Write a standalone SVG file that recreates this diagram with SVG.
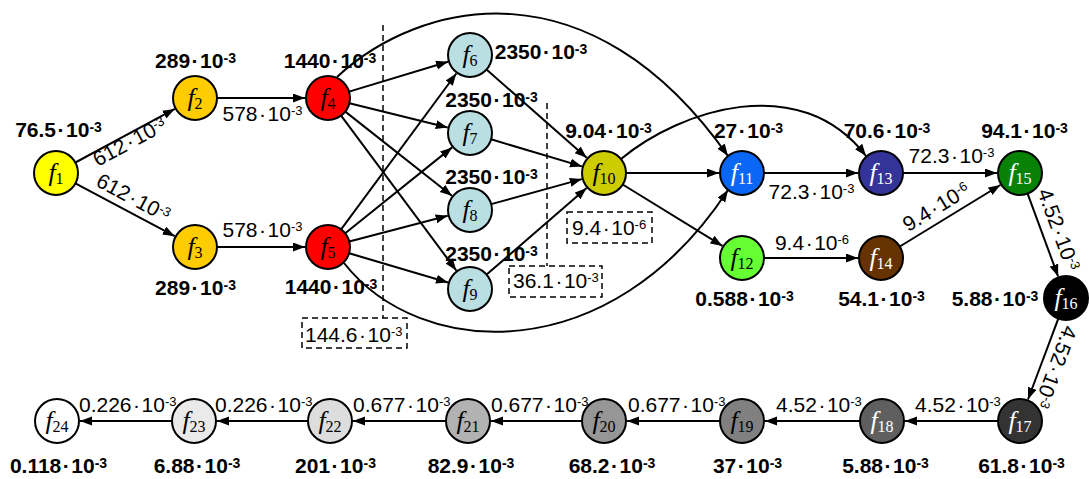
<svg xmlns="http://www.w3.org/2000/svg" width="1089" height="479" viewBox="0 0 1089 479">
<defs>
<marker id="ah" markerWidth="13" markerHeight="10" refX="12" refY="4.5" orient="auto" markerUnits="userSpaceOnUse">
<path d="M0,0 L12,4.5 L0,9 z" fill="#000"/>
</marker>
<style>
.n circle{stroke:#000;stroke-width:2}
.nl{font-family:"Liberation Serif","Times New Roman",serif;font-size:26px;text-anchor:middle;fill:#000}
.nl .s{font-style:normal;font-size:16px}
.w{fill:#fff}
.b{font-family:"Liberation Sans",Arial,sans-serif;font-weight:bold;font-size:21px;text-anchor:middle;fill:#000}
.bs{font-size:14px}
.l{font-family:"Liberation Sans",Arial,sans-serif;font-size:21px;fill:#000}
.ls{font-size:13px}
.m{text-anchor:middle}
.e{stroke:#000;stroke-width:2;fill:none;marker-end:url(#ah)}
.d{stroke:#000;stroke-width:1.5;fill:none;stroke-dasharray:6 4}
</style>
</defs>
<rect width="1089" height="479" fill="#fff"/>

<g id="connectors">
<line class="e" x1="75.4" y1="162.5" x2="174.8" y2="108.9"/>
<line class="e" x1="75.4" y1="183.3" x2="174.7" y2="236.2"/>
<line class="e" x1="217" y1="98" x2="305" y2="98"/>
<line class="e" x1="217" y1="247" x2="305" y2="247"/>
<line class="e" x1="349.1" y1="91.6" x2="448" y2="61.7"/>
<line class="e" x1="349.4" y1="103.3" x2="447.7" y2="127.5"/>
<line class="e" x1="345.3" y1="111.6" x2="451.9" y2="195.8"/>
<line class="e" x1="341.1" y1="115.7" x2="456.3" y2="270.5"/>
<line class="e" x1="341.1" y1="229.3" x2="456.3" y2="73.5"/>
<line class="e" x1="345.2" y1="233.2" x2="452.1" y2="147.4"/>
<line class="e" x1="349.3" y1="241.5" x2="447.7" y2="215.8"/>
<line class="e" x1="349.1" y1="253.2" x2="448" y2="282.5"/>
<line class="e" x1="486.5" y1="69.5" x2="586.7" y2="157.8"/>
<line class="e" x1="491.1" y1="139.3" x2="582" y2="166.4"/>
<line class="e" x1="491.2" y1="204.1" x2="581.8" y2="179.1"/>
<line class="e" x1="486.6" y1="274.6" x2="586.6" y2="188.1"/>
<line class="e" x1="626" y1="173" x2="719" y2="173"/>
<line class="e" x1="622.7" y1="184.5" x2="722.4" y2="245.9"/>
<line class="e" x1="764" y1="173" x2="858" y2="173"/>
<line class="e" x1="764" y1="258" x2="858" y2="258"/>
<line class="e" x1="903" y1="173" x2="997" y2="173"/>
<line class="e" x1="899.8" y1="246.5" x2="1000.4" y2="185"/>
<line class="e" x1="1027.6" y1="193.6" x2="1058.1" y2="276.4"/>
<line class="e" x1="1058.3" y1="318.6" x2="1028" y2="399.5"/>
<line class="e" x1="998" y1="421" x2="905" y2="421"/>
<line class="e" x1="860" y1="421" x2="765" y2="421"/>
<line class="e" x1="720" y1="421" x2="627" y2="421"/>
<line class="e" x1="582" y1="421" x2="491" y2="421"/>
<line class="e" x1="446" y1="421" x2="353" y2="421"/>
<line class="e" x1="308" y1="421" x2="217" y2="421"/>
<line class="e" x1="172" y1="421" x2="80" y2="421"/>
<path class="e" d="M337,77 C420,0 590,-40 728,156"/>
<path class="e" d="M621,159 C680,110 800,70 866,156"/>
<path class="e" d="M344,263 C420,360 610,370 728,190"/>
</g>

<g id="dashed">
<line class="d" x1="383" y1="25" x2="383" y2="318"/>
<rect class="d" x="302" y="318" width="105" height="30"/>
<line class="d" x1="547" y1="103" x2="547" y2="266"/>
<rect class="d" x="509" y="266" width="93" height="31"/>
<rect class="d" x="567" y="212" width="85" height="31"/>
<text class="l" x="305" y="342">144.6<tspan dx="1.5">·</tspan><tspan dx="1.5">10</tspan><tspan class="ls" dy="-6">-3</tspan></text>
<text class="l" x="513" y="288">36.1<tspan dx="1.5">·</tspan><tspan dx="1.5">10</tspan><tspan class="ls" dy="-6">-3</tspan></text>
<text class="l" x="572" y="235">9.4<tspan dx="1.5">·</tspan><tspan dx="1.5">10</tspan><tspan class="ls" dy="-6">-6</tspan></text>
</g>

<g id="edge-labels">
<text class="l m" x="133" y="148" transform="rotate(-28.4 133 148)">612<tspan dx="1.5">·</tspan><tspan dx="1.5">10</tspan><tspan class="ls" dy="-6">-3</tspan></text>
<text class="l m" x="130" y="204" transform="rotate(28 130 204)">612<tspan dx="1.5">·</tspan><tspan dx="1.5">10</tspan><tspan class="ls" dy="-6">-3</tspan></text>
<text class="l m" x="262.5" y="121">578<tspan dx="1.5">·</tspan><tspan dx="1.5">10</tspan><tspan class="ls" dy="-6">-3</tspan></text>
<text class="l m" x="262.5" y="237">578<tspan dx="1.5">·</tspan><tspan dx="1.5">10</tspan><tspan class="ls" dy="-6">-3</tspan></text>
<text class="l m" x="811.5" y="199">72.3<tspan dx="1.5">·</tspan><tspan dx="1.5">10</tspan><tspan class="ls" dy="-6">-3</tspan></text>
<text class="l m" x="951.5" y="163">72.3<tspan dx="1.5">·</tspan><tspan dx="1.5">10</tspan><tspan class="ls" dy="-6">-3</tspan></text>
<text class="l m" x="812" y="250">9.4<tspan dx="1.5">·</tspan><tspan dx="1.5">10</tspan><tspan class="ls" dy="-6">-6</tspan></text>
<text class="l m" x="940" y="213" transform="rotate(-31.4 940 213)">9.4<tspan dx="1.5">·</tspan><tspan dx="1.5">10</tspan><tspan class="ls" dy="-6">-6</tspan></text>
<text class="l m" x="1052" y="232" transform="rotate(70 1052 232)">4.52<tspan dx="1.5">·</tspan><tspan dx="1.5">10</tspan><tspan class="ls" dy="-6">-3</tspan></text>
<text class="l m" x="1049" y="364.5" transform="rotate(110.5 1049 364.5)">4.52<tspan dx="1.5">·</tspan><tspan dx="1.5">10</tspan><tspan class="ls" dy="-6">-3</tspan></text>
<text class="l" x="915" y="412">4.52<tspan dx="1.5">·</tspan><tspan dx="1.5">10</tspan><tspan class="ls" dy="-6">-3</tspan></text>
<text class="l" x="776" y="412">4.52<tspan dx="1.5">·</tspan><tspan dx="1.5">10</tspan><tspan class="ls" dy="-6">-3</tspan></text>
<text class="l" x="628" y="412">0.677<tspan dx="1.5">·</tspan><tspan dx="1.5">10</tspan><tspan class="ls" dy="-6">-3</tspan></text>
<text class="l" x="491" y="412">0.677<tspan dx="1.5">·</tspan><tspan dx="1.5">10</tspan><tspan class="ls" dy="-6">-3</tspan></text>
<text class="l" x="353" y="412">0.677<tspan dx="1.5">·</tspan><tspan dx="1.5">10</tspan><tspan class="ls" dy="-6">-3</tspan></text>
<text class="l" x="215" y="412">0.226<tspan dx="1.5">·</tspan><tspan dx="1.5">10</tspan><tspan class="ls" dy="-6">-3</tspan></text>
<text class="l" x="79" y="412">0.226<tspan dx="1.5">·</tspan><tspan dx="1.5">10</tspan><tspan class="ls" dy="-6">-3</tspan></text>
</g>

<g id="f1" class="n"><circle cx="56" cy="173" r="22" fill="#FFFF00"/><text class="nl" x="56" y="181"><tspan font-style="italic">f</tspan><tspan class="s" dy="3">1</tspan></text><text class="b" x="58.5" y="137">76.5<tspan dx="1.5">·</tspan><tspan dx="1.5">10</tspan><tspan class="bs" dy="-5">-3</tspan></text></g>
<g id="f2" class="n"><circle cx="195" cy="98" r="22" fill="#FFCC00"/><text class="nl" x="195" y="106"><tspan font-style="italic">f</tspan><tspan class="s" dy="3">2</tspan></text><text class="b" x="195.5" y="68">289<tspan dx="1.5">·</tspan><tspan dx="1.5">10</tspan><tspan class="bs" dy="-5">-3</tspan></text></g>
<g id="f3" class="n"><circle cx="195" cy="247" r="22" fill="#FFCC00"/><text class="nl" x="195" y="255"><tspan font-style="italic">f</tspan><tspan class="s" dy="3">3</tspan></text><text class="b" x="195.5" y="295">289<tspan dx="1.5">·</tspan><tspan dx="1.5">10</tspan><tspan class="bs" dy="-5">-3</tspan></text></g>
<g id="f4" class="n"><circle cx="328" cy="98" r="22" fill="#FF0000"/><text class="nl" x="328" y="106"><tspan font-style="italic">f</tspan><tspan class="s" dy="3">4</tspan></text><text class="b" x="330" y="68">1440<tspan dx="1.5">·</tspan><tspan dx="1.5">10</tspan><tspan class="bs" dy="-5">-3</tspan></text></g>
<g id="f5" class="n"><circle cx="328" cy="247" r="22" fill="#FF0000"/><text class="nl" x="328" y="255"><tspan font-style="italic">f</tspan><tspan class="s" dy="3">5</tspan></text><text class="b" x="331" y="294">1440<tspan dx="1.5">·</tspan><tspan dx="1.5">10</tspan><tspan class="bs" dy="-5">-3</tspan></text></g>
<g id="f6" class="n"><circle cx="470" cy="55" r="22" fill="#B9DFE2"/><text class="nl" x="470" y="63"><tspan font-style="italic">f</tspan><tspan class="s" dy="3">6</tspan></text><text class="b" x="541" y="59">2350<tspan dx="1.5">·</tspan><tspan dx="1.5">10</tspan><tspan class="bs" dy="-5">-3</tspan></text></g>
<g id="f7" class="n"><circle cx="470" cy="133" r="22" fill="#B9DFE2"/><text class="nl" x="470" y="141"><tspan font-style="italic">f</tspan><tspan class="s" dy="3">7</tspan></text><text class="b" x="491.5" y="107">2350<tspan dx="1.5">·</tspan><tspan dx="1.5">10</tspan><tspan class="bs" dy="-5">-3</tspan></text></g>
<g id="f8" class="n"><circle cx="470" cy="210" r="22" fill="#B9DFE2"/><text class="nl" x="470" y="218"><tspan font-style="italic">f</tspan><tspan class="s" dy="3">8</tspan></text><text class="b" x="491.5" y="184">2350<tspan dx="1.5">·</tspan><tspan dx="1.5">10</tspan><tspan class="bs" dy="-5">-3</tspan></text></g>
<g id="f9" class="n"><circle cx="470" cy="289" r="22" fill="#B9DFE2"/><text class="nl" x="470" y="297"><tspan font-style="italic">f</tspan><tspan class="s" dy="3">9</tspan></text><text class="b" x="491.5" y="261">2350<tspan dx="1.5">·</tspan><tspan dx="1.5">10</tspan><tspan class="bs" dy="-5">-3</tspan></text></g>
<g id="f10" class="n"><circle cx="604" cy="173" r="22" fill="#CCCC00"/><text class="nl" x="604" y="181"><tspan font-style="italic">f</tspan><tspan class="s" dy="3">10</tspan></text><text class="b" x="608.5" y="138">9.04<tspan dx="1.5">·</tspan><tspan dx="1.5">10</tspan><tspan class="bs" dy="-5">-3</tspan></text></g>
<g id="f11" class="n"><circle cx="742" cy="173" r="22" fill="#0A66F5"/><text class="nl w" x="742" y="181"><tspan font-style="italic">f</tspan><tspan class="s" dy="3">11</tspan></text><text class="b" x="748.5" y="138">27<tspan dx="1.5">·</tspan><tspan dx="1.5">10</tspan><tspan class="bs" dy="-5">-3</tspan></text></g>
<g id="f12" class="n"><circle cx="742" cy="258" r="22" fill="#66FF33"/><text class="nl" x="742" y="266"><tspan font-style="italic">f</tspan><tspan class="s" dy="3">12</tspan></text><text class="b" x="744.5" y="306">0.588<tspan dx="1.5">·</tspan><tspan dx="1.5">10</tspan><tspan class="bs" dy="-5">-3</tspan></text></g>
<g id="f13" class="n"><circle cx="881" cy="173" r="22" fill="#333399"/><text class="nl w" x="881" y="181"><tspan font-style="italic">f</tspan><tspan class="s" dy="3">13</tspan></text><text class="b" x="887" y="138">70.6<tspan dx="1.5">·</tspan><tspan dx="1.5">10</tspan><tspan class="bs" dy="-5">-3</tspan></text></g>
<g id="f14" class="n"><circle cx="881" cy="258" r="22" fill="#663300"/><text class="nl w" x="881" y="266"><tspan font-style="italic">f</tspan><tspan class="s" dy="3">14</tspan></text><text class="b" x="881.5" y="306">54.1<tspan dx="1.5">·</tspan><tspan dx="1.5">10</tspan><tspan class="bs" dy="-5">-3</tspan></text></g>
<g id="f15" class="n"><circle cx="1020" cy="173" r="22" fill="#078207"/><text class="nl w" x="1020" y="181"><tspan font-style="italic">f</tspan><tspan class="s" dy="3">15</tspan></text><text class="b" x="1024.5" y="138">94.1<tspan dx="1.5">·</tspan><tspan dx="1.5">10</tspan><tspan class="bs" dy="-5">-3</tspan></text></g>
<g id="f16" class="n"><circle cx="1066" cy="298" r="22" fill="#000000"/><text class="nl w" x="1066" y="306"><tspan font-style="italic">f</tspan><tspan class="s" dy="3">16</tspan></text><text class="b" x="995" y="306">5.88<tspan dx="1.5">·</tspan><tspan dx="1.5">10</tspan><tspan class="bs" dy="-5">-3</tspan></text></g>
<g id="f17" class="n"><circle cx="1020" cy="421" r="22" fill="#333333"/><text class="nl w" x="1020" y="429"><tspan font-style="italic">f</tspan><tspan class="s" dy="3">17</tspan></text><text class="b" x="1021.5" y="473">61.8<tspan dx="1.5">·</tspan><tspan dx="1.5">10</tspan><tspan class="bs" dy="-5">-3</tspan></text></g>
<g id="f18" class="n"><circle cx="882" cy="421" r="22" fill="#5F5F5F"/><text class="nl w" x="882" y="429"><tspan font-style="italic">f</tspan><tspan class="s" dy="3">18</tspan></text><text class="b" x="885.5" y="473">5.88<tspan dx="1.5">·</tspan><tspan dx="1.5">10</tspan><tspan class="bs" dy="-5">-3</tspan></text></g>
<g id="f19" class="n"><circle cx="742" cy="421" r="22" fill="#808080"/><text class="nl" x="742" y="429" fill="#eeeeee"><tspan font-style="italic">f</tspan><tspan class="s" dy="3">19</tspan></text><text class="b" x="747.5" y="473">37<tspan dx="1.5">·</tspan><tspan dx="1.5">10</tspan><tspan class="bs" dy="-5">-3</tspan></text></g>
<g id="f20" class="n"><circle cx="604" cy="421" r="22" fill="#969696"/><text class="nl" x="604" y="429"><tspan font-style="italic">f</tspan><tspan class="s" dy="3">20</tspan></text><text class="b" x="612" y="473">68.2<tspan dx="1.5">·</tspan><tspan dx="1.5">10</tspan><tspan class="bs" dy="-5">-3</tspan></text></g>
<g id="f21" class="n"><circle cx="468" cy="421" r="22" fill="#B2B2B2"/><text class="nl" x="468" y="429"><tspan font-style="italic">f</tspan><tspan class="s" dy="3">21</tspan></text><text class="b" x="471" y="473">82.9<tspan dx="1.5">·</tspan><tspan dx="1.5">10</tspan><tspan class="bs" dy="-5">-3</tspan></text></g>
<g id="f22" class="n"><circle cx="330" cy="421" r="22" fill="#DDDDDD"/><text class="nl" x="330" y="429"><tspan font-style="italic">f</tspan><tspan class="s" dy="3">22</tspan></text><text class="b" x="335.5" y="473">201<tspan dx="1.5">·</tspan><tspan dx="1.5">10</tspan><tspan class="bs" dy="-5">-3</tspan></text></g>
<g id="f23" class="n"><circle cx="194" cy="421" r="22" fill="#EAEAEA"/><text class="nl" x="194" y="429"><tspan font-style="italic">f</tspan><tspan class="s" dy="3">23</tspan></text><text class="b" x="197" y="473">6.88<tspan dx="1.5">·</tspan><tspan dx="1.5">10</tspan><tspan class="bs" dy="-5">-3</tspan></text></g>
<g id="f24" class="n"><circle cx="57" cy="421" r="22" fill="#FFFFFF"/><text class="nl" x="57" y="429"><tspan font-style="italic">f</tspan><tspan class="s" dy="3">24</tspan></text><text class="b" x="58.5" y="473">0.118<tspan dx="1.5">·</tspan><tspan dx="1.5">10</tspan><tspan class="bs" dy="-5">-3</tspan></text></g>
</svg>
